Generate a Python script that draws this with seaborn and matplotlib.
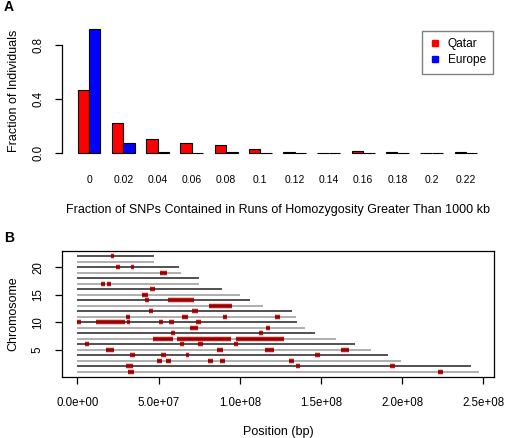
import matplotlib
matplotlib.use("Agg")
import matplotlib.pyplot as plt
from matplotlib.lines import Line2D
import seaborn as sns
import pandas as pd

# Panel A: fraction of individuals per ROH-SNP fraction bin
bins = ['0', '0.02', '0.04', '0.06', '0.08', '0.1', '0.12', '0.14', '0.16', '0.18', '0.2', '0.22']
qatar = [0.467, 0.22, 0.106, 0.072, 0.057, 0.03, 0.005, 0.0, 0.012, 0.005, 0.0, 0.005]
europe = [0.916, 0.072, 0.005, 0.0, 0.005, 0.0, 0.0, 0.0, 0.0, 0.0, 0.0, 0.0]

# Panel B: chromosome lengths (Mb) and runs of homozygosity (Mb)
chrom_len = [247.1, 242.6, 199.3, 191.1, 180.6, 170.8, 159.1, 146.3, 140.2, 135.3, 134.4,
             132.4, 114.1, 106.5, 100.4, 88.9, 74.7, 74.7, 63.8, 62.6, 47.0, 47.0]
roh_chrom = [22, 20, 20, 19, 17, 17, 16, 15, 14, 14, 13, 12, 12,
             11, 11, 11, 11, 10, 10, 10, 10, 10, 10, 9, 9, 8, 8,
             7, 7, 7, 6, 6, 6, 6, 5, 5, 5, 5, 4, 4, 4, 4,
             3, 3, 3, 3, 3, 2, 2, 2, 1, 1]
roh_start = [20.8, 23.8, 33.0, 51.1, 14.4, 18.3, 44.7, 40.0, 41.9, 56.0, 80.9, 44.1, 70.8,
             30.0, 64.2, 89.5, 121.9, 0.0, 11.5, 30.4, 50.1, 56.6, 73.1, 69.6, 116.0, 57.9, 111.8,
             46.8, 61.2, 97.7, 4.9, 63.1, 74.3, 96.5, 17.9, 86.2, 115.8, 162.6, 32.6, 51.7, 66.7, 146.1,
             49.3, 54.6, 80.3, 87.6, 130.5, 29.8, 134.6, 192.5, 31.4, 222.1]
roh_end = [22.8, 26.5, 34.9, 55.0, 17.0, 20.9, 47.8, 43.3, 44.1, 71.6, 95.0, 46.6, 74.1,
           32.4, 67.9, 92.0, 124.8, 2.3, 29.4, 32.6, 53.0, 59.5, 75.9, 74.5, 118.4, 60.3, 114.3,
           58.7, 94.6, 127.3, 7.4, 65.7, 77.2, 98.9, 22.4, 89.5, 121.1, 167.1, 35.5, 54.4, 69.0, 149.2,
           52.1, 57.5, 83.5, 91.1, 133.4, 34.5, 137.3, 195.6, 34.7, 225.4]

sns.set_style("ticks")
plt.rcParams['font.family'] = ['Liberation Sans', 'DejaVu Sans']
plt.rcParams['text.color'] = 'black'
plt.rcParams['axes.labelcolor'] = 'black'
plt.rcParams['xtick.color'] = 'black'
plt.rcParams['ytick.color'] = 'black'

W, H = 506, 438
fig = plt.figure(figsize=(W / 100, H / 100), dpi=100)
axA = fig.add_axes([61.6 / W, 1 - 158 / H, 431.8 / W, 133.6 / H])
axB = fig.add_axes([62 / W, 1 - 376.6 / H, 432 / W, 125.2 / H])

# ---- Panel A ----
df = pd.DataFrame({
    'bin': bins * 2,
    'fraction': qatar + europe,
    'population': ['Qatar'] * len(bins) + ['Europe'] * len(bins),
})
sns.barplot(data=df, x='bin', y='fraction', hue='population', order=bins,
            hue_order=['Qatar', 'Europe'], palette={'Qatar': '#FF0000', 'Europe': '#0000FF'},
            width=0.667, saturation=1, edgecolor='black', linewidth=0.8,
            legend=False, ax=axA)
axA.set_xlim(-0.8, 11.8)
axA.set_ylim(-0.0366, 0.953)
for s in ['top', 'right', 'bottom']:
    axA.spines[s].set_visible(False)
axA.spines['left'].set_bounds(0, 0.8)
axA.spines['left'].set_linewidth(0.9)
axA.spines['left'].set_color('black')
axA.set_yticks([0, 0.4, 0.8])
axA.set_yticklabels(['0.0', '0.4', '0.8'], rotation=90, va='center')
axA.tick_params(axis='y', length=5, width=0.9, pad=7, labelsize=8.3)
axA.tick_params(axis='x', length=0, pad=12, labelsize=7.5)
axA.set_xlabel('Fraction of SNPs Contained in Runs of Homozygosity Greater Than 1000 kb',
               fontsize=9, labelpad=14)
axA.set_ylabel('Fraction of Individuals', fontsize=9, labelpad=9)

handles = [Line2D([], [], marker='s', linestyle='none', color='#FF0000', markersize=5),
           Line2D([], [], marker='s', linestyle='none', color='#0000FF', markersize=5)]
leg = axA.legend(handles, ['Qatar', 'Europe'], loc='upper right',
                 bbox_to_anchor=(1.0, 0.95), borderaxespad=0, fancybox=False,
                 fontsize=8.6, handlelength=1.0, handletextpad=0.6, borderpad=0.6,
                 labelspacing=0.35, framealpha=1)
leg.get_frame().set_edgecolor('#808080')
leg.get_frame().set_linewidth(1)

# ---- Panel B ----
for i, L in enumerate(chrom_len):
    c = i + 1
    axB.hlines(c, 0, L * 1e6, color='#999999' if c % 2 == 1 else '#222222', linewidth=1.1)
for c, s, e in zip(roh_chrom, roh_start, roh_end):
    axB.hlines(c, s * 1e6, e * 1e6, color='#FF6060', linewidth=4.0, alpha=0.5)
    axB.hlines(c, s * 1e6, e * 1e6, color='#9A0000', linewidth=2.6)
axB.set_xlim(-9.5e6, 256.6e6)
axB.set_ylim(0.16, 22.84)
for s in axB.spines.values():
    s.set_visible(True)
    s.set_color('black')
    s.set_linewidth(0.9)
xt = [0, 5e7, 1e8, 1.5e8, 2e8, 2.5e8]
axB.set_xticks(xt)
axB.set_xticklabels(['%.1e' % v for v in xt])
axB.set_yticks([5, 10, 15, 20])
axB.set_yticklabels(['5', '10', '15', '20'], rotation=90, va='center')
axB.tick_params(axis='x', length=5, width=0.9, pad=10, labelsize=8.3)
axB.tick_params(axis='y', length=5, width=0.9, pad=8, labelsize=8.3)
axB.set_xlabel('Position (bp)', fontsize=9, labelpad=12)
axB.set_ylabel('Chromosome', fontsize=9, labelpad=9)

fig.text(4 / W, 1 - 7 / H, 'A', fontsize=10, fontweight='bold', va='center', ha='left')
fig.text(4 / W, 1 - 238 / H, 'B', fontsize=10, fontweight='bold', va='center', ha='left')

fig.savefig('out.png', dpi=100)
